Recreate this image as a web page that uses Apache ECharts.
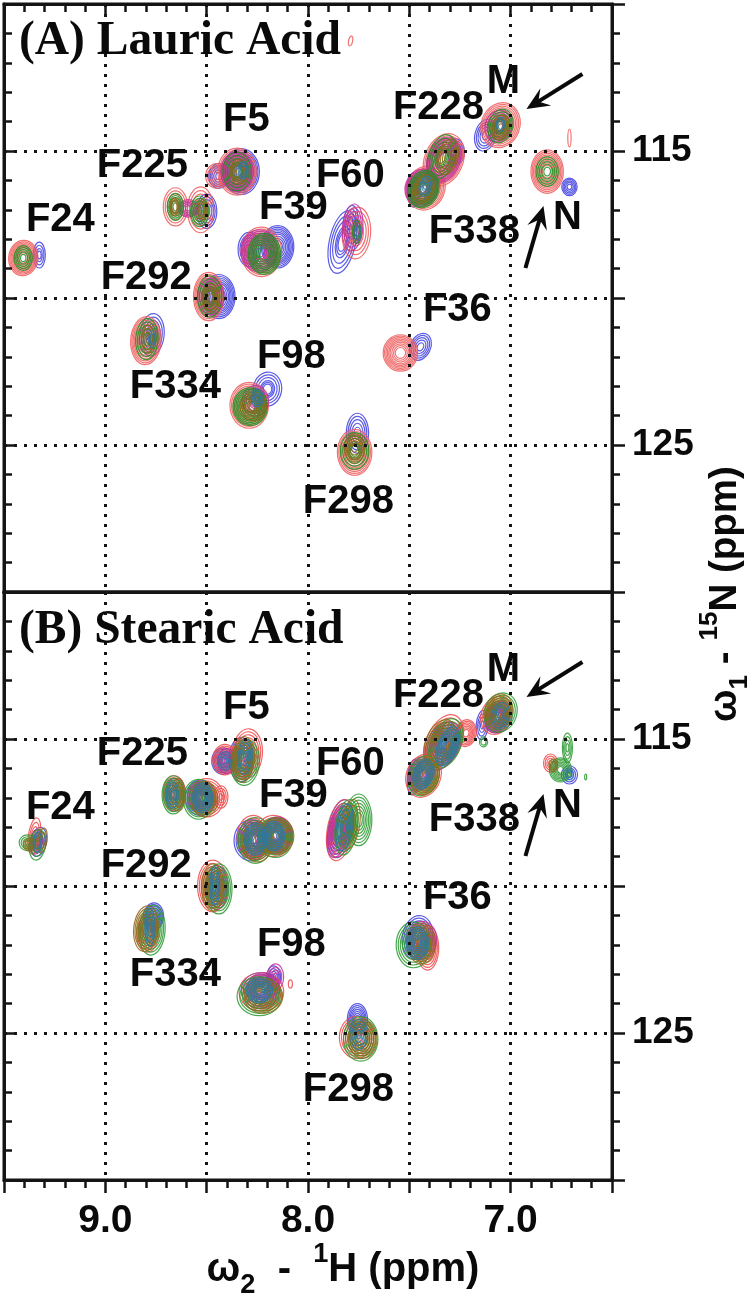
<!DOCTYPE html>
<html><head><meta charset="utf-8">
<style>html,body{margin:0;padding:0;background:#fff}#c{width:750px;height:1296px}</style>
<script src="https://cdn.jsdelivr.net/npm/echarts@6/dist/echarts.min.js"></script>
</head><body><div id="c"></div>
<script>
// Peak contour blobs: [1H ppm, 15N ppm, half-width 1H, half-height 15N, tilt deg]
const blueA=[[9.326,118.54,.03,.44,0],[8.50,117.05,.05,.58,0],[8.33,115.7,.09,.78,0],[8.44,115.85,.05,.42,0],[8.15,118.26,.08,.72,0],[8.29,118.35,.055,.58,0],[7.83,118.1,.065,1.08,12],[7.79,117.4,.035,.55,8],[8.44,119.95,.08,.75,0],[8.77,121.25,.06,.72,6],[8.20,123.1,.07,.58,8],[7.756,124.6,.055,.68,0],[7.445,121.66,.05,.48,25],[7.27,115.03,.042,.44,0],[7.48,116.33,.03,.58,0],[7.124,114.46,.052,.55,15],[6.71,116.22,.038,.3,0],[7.76,117.7,.02,.3,0]];
const redA=[[9.405,118.64,.072,.6,5],[8.654,116.9,.06,.65,0],[8.53,117.0,.065,.78,0],[8.35,115.7,.095,.8,0],[8.45,115.85,.055,.42,0],[8.23,118.43,.1,.84,0],[7.761,117.79,.07,.88,4],[8.49,119.95,.075,.82,0],[8.80,121.45,.075,.82,3],[8.29,123.65,.095,.78,0],[7.77,125.25,.085,.78,0],[7.544,121.87,.085,.62,0],[7.33,115.3,.095,.92,22],[7.42,116.26,.095,.76,22],[7.05,114.12,.095,.78,20],[6.82,115.7,.08,.74,0],[7.79,111.26,.01,.17,10],[6.71,114.56,.008,.3,0]];
const magentaA=[[8.59,116.95,.05,.3,0],[8.35,115.7,.08,.68,0],[8.24,118.4,.09,.72,0],[7.78,117.6,.05,.8,5],[8.26,123.5,.065,.52,0],[8.48,119.95,.065,.62,0],[7.06,114.15,.065,.55,20],[7.33,115.3,.08,.8,20],[7.44,116.25,.08,.64,20]];
const greenA=[[9.405,118.64,.045,.42,0],[8.654,116.9,.04,.46,0],[8.535,117.05,.045,.52,0],[8.35,115.7,.07,.65,0],[8.215,118.5,.08,.7,0],[8.485,119.95,.06,.7,0],[8.795,121.4,.055,.7,3],[8.285,123.7,.085,.64,0],[7.77,125.2,.07,.62,0],[7.76,117.75,.02,.4,0],[7.34,115.2,.065,.78,18],[7.43,116.3,.075,.65,20],[7.05,114.15,.06,.58,15],[6.82,115.7,.055,.5,0]];
const brownA=[[8.34,115.7,.045,.42,0],[8.66,116.9,.02,.3,0],[8.52,117.0,.025,.35,0],[8.48,120.0,.045,.48,0],[8.79,121.4,.03,.48,0],[8.27,123.7,.065,.48,0],[7.77,125.1,.05,.48,0],[7.31,115.2,.05,.62,15],[7.43,116.3,.05,.5,20],[7.05,114.2,.045,.42,15]];
const tealA=[[8.32,115.65,.025,.3,0],[8.77,121.4,.015,.3,0],[7.75,117.8,.012,.25,0],[8.25,123.4,.03,.3,0],[7.05,114.1,.02,.25,0],[7.42,116.2,.03,.35,15]];

const blueB=[[9.33,118.5,.04,.5,10],[8.66,116.9,.045,.55,0],[8.53,117.0,.075,.6,0],[8.33,115.7,.06,.75,0],[8.42,115.75,.055,.45,0],[8.28,118.45,.085,.7,0],[8.16,118.3,.075,.6,0],[7.84,118.05,.06,1.0,10],[8.45,120.05,.055,.75,0],[8.763,121.05,.05,.48,5],[8.235,123.55,.095,.6,0],[8.17,123.1,.035,.38,0],[7.756,124.55,.05,.55,0],[7.46,121.75,.075,.75,10],[7.34,115.25,.075,.85,22],[7.48,116.3,.03,.6,5],[7.14,114.52,.03,.5,5],[7.06,114.25,.065,.55,20],[6.71,116.22,.04,.31,0]];
const redB=[[9.35,118.3,.03,.62,8],[8.66,116.85,.055,.6,0],[8.50,117.0,.085,.65,0],[8.43,116.97,.035,.38,0],[8.30,115.5,.075,.85,5],[8.41,115.7,.06,.52,0],[8.27,118.35,.08,.75,0],[8.17,118.3,.09,.7,0],[7.84,118.1,.065,1.05,10],[8.47,120.0,.075,.88,0],[8.79,121.6,.055,.65,4],[8.23,123.6,.11,.65,0],[8.087,123.33,.01,.14,0],[7.76,125.15,.085,.72,0],[7.41,122.1,.055,.76,0],[7.33,115.1,.085,.98,24],[7.22,114.8,.05,.46,10],[7.43,116.25,.085,.75,20],[7.07,114.2,.075,.66,20],[6.803,115.82,.035,.31,0]];
const magentaB=[[9.34,118.5,.03,.42,8],[8.54,116.95,.055,.5,0],[8.40,115.75,.045,.42,0],[8.27,118.4,.075,.65,0],[8.15,118.25,.075,.6,0],[7.85,118.15,.05,.9,12],[8.16,123.09,.04,.44,0],[8.22,123.4,.075,.45,0],[7.44,121.85,.075,.65,5],[7.32,115.15,.07,.75,22],[7.45,116.2,.055,.6,15],[7.07,114.3,.055,.5,15]];
const greenB=[[9.335,118.6,.04,.52,8],[9.385,118.53,.04,.27,0],[8.665,116.9,.055,.65,0],[8.54,117.05,.075,.68,0],[8.31,115.8,.07,.78,5],[8.26,118.45,.085,.78,0],[8.16,118.35,.085,.68,0],[7.75,117.75,.065,.88,0],[7.81,118.0,.055,.95,8],[8.44,120.1,.065,.85,0],[8.77,121.5,.065,.85,4],[8.24,123.75,.11,.66,0],[7.74,125.2,.085,.76,0],[7.48,122.0,.085,.78,0],[7.32,115.15,.075,.88,22],[7.43,116.25,.075,.7,20],[7.05,114.1,.08,.68,20],[7.134,115.1,.02,.17,0],[6.72,115.3,.025,.5,0],[6.754,116.05,.055,.41,0],[6.63,116.29,.005,.1,0]];
const brownB=[[9.31,118.45,.022,.42,8],[9.37,118.6,.035,.22,0],[8.64,116.9,.035,.55,0],[8.51,117.05,.065,.6,0],[8.32,115.7,.055,.78,5],[8.25,118.5,.075,.68,0],[8.15,118.3,.08,.62,0],[7.79,117.9,.045,.85,8],[8.47,120.05,.055,.8,0],[8.80,121.45,.06,.78,6],[8.22,123.75,.095,.58,0],[7.73,125.2,.07,.66,0],[7.44,121.95,.07,.7,0],[7.35,115.15,.07,.85,22],[7.42,116.3,.065,.62,18],[7.06,114.05,.065,.6,20],[6.79,115.9,.02,.22,0]];
const tealB=[[9.335,118.5,.02,.34,5],[8.67,116.9,.03,.45,0],[8.52,117.0,.05,.5,0],[8.31,115.6,.035,.6,5],[8.41,115.75,.035,.32,0],[8.26,118.4,.055,.55,0],[8.17,118.3,.055,.5,0],[7.82,118.0,.04,.8,8],[8.46,120.0,.025,.65,0],[8.78,121.4,.025,.65,0],[8.24,123.55,.065,.42,0],[7.75,125.05,.045,.5,0],[7.46,121.95,.055,.55,0],[7.31,115.25,.05,.7,22],[7.43,116.2,.05,.52,18],[7.05,114.2,.045,.44,15],[6.71,116.2,.02,.18,0]];

// Residue labels: name, 1H ppm, 15N ppm
const peakNames=['F5','F225','F24','F39','F60','F292','F228','M','F338','N','F36','F98','F334','F298'];
const peakH=[8.304,8.817,9.222,8.072,7.791,8.798,7.356,7.036,7.179,6.72,7.263,8.082,8.654,7.801];
const peakN=[113.88,115.44,117.28,116.87,115.78,119.25,113.47,112.59,117.69,117.21,120.34,121.94,122.96,126.87];
// Arrows: from 1H, from 15N, to 1H, to 15N
const arrows=[[6.646,112.38,6.922,113.57],[6.927,118.98,6.838,116.87]];
const xTickLabels=[9,8,7];
const yTickLabels=[115,125];
const titles=['(A) Lauric Acid','(B) Stearic Acid'];

const SANS='"Liberation Sans",Arial,sans-serif';
const levelsA=[1,.92,.84,.76,.68,.6,.5,.4,.3];
const levelsB=[1,.88,.76,.64,.52,.4,.28];
const ink='#141414';

function blobSeries(data,color,panel,levels){
  return {type:'custom',xAxisIndex:panel*2,yAxisIndex:panel*2,z:2,clip:true,silent:true,
    data:data,
    renderItem:function(p,api){
      const c=api.coord([api.value(0),api.value(1)]);
      const s=api.size([api.value(2),api.value(3)]);
      const rot=-api.value(4)*Math.PI/180;
      let last=Infinity;
      const rings=levels.filter(function(k){
        const r=s[0]*k;
        if(last-r<1.15||(r<1.4&&last!==Infinity))return false;
        last=r;return true;
      });
      return {type:'group',children:rings.map(function(k){
        return {type:'ellipse',x:c[0],y:c[1],rotation:rot,
          shape:{cx:0,cy:0,rx:Math.max(s[0]*k,.8),ry:Math.max(s[1]*k,.8)},
          style:{fill:'none',stroke:color,lineWidth:1.2,opacity:.85}};
      })};
    }};
}
function labelSeries(panel){
  return {type:'custom',xAxisIndex:panel*2,yAxisIndex:panel*2,z:6,clip:false,silent:true,
    data:peakNames.map(function(n,i){return [peakH[i],peakN[i],n];}),
    renderItem:function(p,api){
      const c=api.coord([api.value(0),api.value(1)]);
      return {type:'text',x:c[0],y:c[1]+2,style:{text:peakNames[p.dataIndex],fill:'#0a0a0a',
        font:'bold 40px '+SANS,textAlign:'center',textVerticalAlign:'middle'}};
    }};
}
function arrowSeries(panel){
  return {type:'custom',xAxisIndex:panel*2,yAxisIndex:panel*2,z:6,clip:false,silent:true,
    data:arrows,
    renderItem:function(p,api){
      const a=api.coord([api.value(0),api.value(1)]);
      const b=api.coord([api.value(2),api.value(3)]);
      const ang=Math.atan2(b[1]-a[1],b[0]-a[0]);
      const pt=function(d,t){return [b[0]-d*Math.cos(ang+t),b[1]-d*Math.sin(ang+t)];};
      return {type:'group',children:[
        {type:'line',shape:{x1:a[0],y1:a[1],x2:b[0]-10*Math.cos(ang),y2:b[1]-10*Math.sin(ang)},style:{stroke:'#0a0a0a',lineWidth:4}},
        {type:'polygon',shape:{points:[[b[0],b[1]],pt(25,.42),pt(14,0),pt(25,-.42)]},style:{fill:'#0a0a0a'}}
      ]};
    }};
}
function spectra(panel,sets,levels){
  return sets.map(function(d){return blobSeries(d[0],d[1],panel,levels);});
}
const tickStyle={color:ink,width:2.5};
function xAx(grid,pos,showLabels,inside){
  return {gridIndex:grid,type:'value',position:pos,min:6.5,max:9.5,interval:.5,inverse:true,z:5,
    axisLine:{show:true,onZero:false,lineStyle:{color:ink,width:3}},
    axisTick:{show:showLabels||inside,inside:inside,length:13,lineStyle:tickStyle},
    minorTick:{show:showLabels||inside,splitNumber:5,length:8,lineStyle:tickStyle},
    splitLine:{show:true,lineStyle:{color:ink,type:[3,7],width:3}},
    axisLabel:{show:showLabels,margin:22,color:'#0a0a0a',fontFamily:SANS,fontWeight:'bold',fontSize:39,
      formatter:function(v){return xTickLabels.indexOf(v)>=0?v.toFixed(1):'';},hideOverlap:false}};
}
function yAx(grid,pos,isRight){
  return {gridIndex:grid,type:'value',position:pos,min:110,max:130,interval:5,inverse:true,z:5,
    axisLine:{show:true,onZero:false,lineStyle:{color:ink,width:3}},
    axisTick:{show:true,inside:!isRight,length:13,lineStyle:tickStyle},
    minorTick:{show:true,splitNumber:5,length:8,lineStyle:tickStyle},
    splitLine:{show:!isRight,lineStyle:{color:ink,type:[3,7],width:3}},
    axisLabel:{show:isRight,margin:20,color:'#0a0a0a',fontFamily:SANS,fontWeight:'bold',fontSize:37,
      formatter:function(v){return yTickLabels.indexOf(v)>=0?String(v):'';}}};
}
const fill='#0a0a0a';
const rich=function(size){return {
  b:{fontFamily:SANS,fontWeight:'bold',fontSize:size,lineHeight:size*1.45,verticalAlign:'middle',fill:fill},
  sup:{fontFamily:SANS,fontWeight:'bold',fontSize:size*.68,lineHeight:size*.68,verticalAlign:'top',fill:fill},
  sub:{fontFamily:SANS,fontWeight:'bold',fontSize:size*.68,lineHeight:size*.68,verticalAlign:'bottom',fill:fill}
};};
const titleStyle={fontFamily:'"Liberation Serif",serif',fontWeight:'bold',fontSize:47.5,color:'#0a0a0a'};
const chart=echarts.init(document.getElementById('c'),null,{renderer:'canvas'});
chart.setOption({
  animation:false,backgroundColor:'#fff',
  grid:[{left:4,top:4,width:608,height:588,show:true,borderColor:ink,borderWidth:3},
        {left:4,top:592,width:608,height:588,show:true,borderColor:ink,borderWidth:3}],
  xAxis:[xAx(0,'top',false,true),xAx(0,'bottom',false,false),xAx(1,'bottom',true,false),xAx(1,'top',false,false)],
  yAxis:[yAx(0,'left',false),yAx(0,'right',true),yAx(1,'left',false),yAx(1,'right',true)],
  title:[
    {text:titles[0],left:19,top:18,padding:0,textStyle:titleStyle},
    {text:titles[1],left:19,top:607,padding:0,textStyle:titleStyle}
  ],
  graphic:[
    {type:'text',x:343,y:1270,z:10,style:{text:'{b|ω}{sub|2}{b|  -  }{sup|1}{b|H (ppm)}',rich:rich(40),textAlign:'center',textVerticalAlign:'middle'}},
    {type:'text',x:725,y:594,rotation:Math.PI/2,z:10,style:{text:'{b|ω}{sub|1}{b| - }{sup|15}{b|N (ppm)}',rich:rich(38.5),textAlign:'center',textVerticalAlign:'middle'}}
  ],
  series:[].concat(
    spectra(0,[[blueA,'#3f3fe0'],[redA,'#ef5a5a'],[magentaA,'#c0309a'],[greenA,'#1e9020'],[brownA,'#8a6a18'],[tealA,'#2a78a8']],levelsA),
    spectra(1,[[blueB,'#3f3fe0'],[redB,'#ef4a4a'],[magentaB,'#c0309a'],[greenB,'#2a9a30'],[brownB,'#8f6a1a'],[tealB,'#2a78a8']],levelsB),
    [labelSeries(0),labelSeries(1),arrowSeries(0),arrowSeries(1)]
  )
});
</script></body></html>
